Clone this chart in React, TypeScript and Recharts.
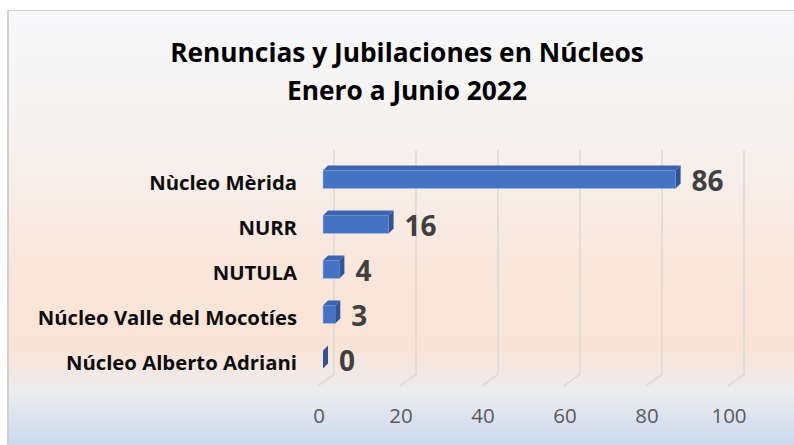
import { BarChart, Bar, XAxis, YAxis, CartesianGrid, LabelList } from 'recharts'

const categories = [
  'Nùcleo Mèrida',
  'NURR',
  'NUTULA',
  'Núcleo Valle del Mocotíes',
  'Núcleo Alberto Adriani',
]
const values = [86, 16, 4, 3, 0]
const xTicks = [0, 20, 40, 60, 80, 100]
const titleLines = ['Renuncias y Jubilaciones en Núcleos', 'Enero a Junio 2022']

const data = categories.map((name, i) => ({ name, value: values[i] }))

const FONT = '"Open Sans", Lato, sans-serif'
const W = 787
const H = 435
const DEPTH = 5

// 3D bar: front face, top face and dark right side
function Bar3D(props: any) {
  const { x, y, height } = props
  const w = Math.max(props.width || 0, 0)
  const d = DEPTH
  const top = `M${x},${y} L${x + d},${y - d} L${x + w + d},${y - d} L${x + w},${y} Z`
  const side = `M${x + w},${y} L${x + w + d},${y - d} L${x + w + d},${y + height - d} L${x + w},${y + height} Z`
  return (
    <g>
      {w > 0 && <rect x={x} y={y} width={w} height={height} fill="#4472c4" stroke="#a9bde3" strokeWidth={0.6} />}
      {w > 0 && <path d={top} fill="#3b64b0" />}
      <path d={side} fill="#2f5597" />
    </g>
  )
}

// back-wall gridline with a slanted floor segment
function GridLine(p: any) {
  const x = p.x1
  return (
    <path
      key={p.key}
      d={`M${x + 11},140 L${x + 11},364 L${x - 5},376`}
      fill="none"
      stroke="#d9d9d9"
      strokeWidth={1.5}
    />
  )
}

function CategoryTick(p: any) {
  return (
    <text
      x={290}
      y={p.y + 10.5}
      textAnchor="end"
      fontFamily={FONT}
      fontWeight={700}
      fontSize={20.3}
      fill="#0d0d0d"
    >
      {p.payload.value}
    </text>
  )
}

function ValueTick(p: any) {
  return (
    <text x={p.x - 4} y={413} textAnchor="middle" fontFamily={FONT} fontSize={20.5} fill="#595959">
      {p.payload.value}
    </text>
  )
}

function ValueLabel(p: any) {
  const { x, y, width, height, value } = p
  return (
    <text
      x={x + width + 16}
      y={y + height / 2 + 11}
      fontFamily={FONT}
      fontWeight={700}
      fontSize={28}
      fill="#404040"
    >
      {value}
    </text>
  )
}

export default function App() {
  return (
    <div
      style={{
        position: 'fixed',
        left: 7,
        top: 10,
        width: W,
        height: H,
        borderTop: '1px solid #d0d0d0',
        borderLeft: '2px solid #d0d0d0',
        boxSizing: 'border-box',
        background:
          'linear-gradient(to bottom, #f7f8fb 0%, #f6f1ee 32%, #fae6da 62%, #fae3d6 78%, #ecedf0 88%, #cbd8ee 100%)',
        overflow: 'hidden',
      }}
    >
      <svg width={W} height={110} style={{ position: 'absolute', left: 0, top: 0 }}>
        {titleLines.map((t, i) => (
          <text
            key={i}
            x={398}
            y={51 + i * 38}
            textAnchor="middle"
            fontFamily={FONT}
            fontWeight={700}
            fontSize={26.3}
            fill="#000"
          >
            {t}
          </text>
        ))}
      </svg>
      <div style={{ position: 'absolute', left: -2, top: -1 }}>
        <BarChart
          width={W}
          height={H}
          data={data}
          layout="vertical"
          margin={{ top: 146.5, right: 61, bottom: 13.5, left: 0 }}
          barSize={18}
        >
          <CartesianGrid horizontal={false} vertical={GridLine} />
          <XAxis
            type="number"
            domain={[0, 100]}
            ticks={xTicks}
            axisLine={false}
            tickLine={false}
            height={50}
            tick={ValueTick}
            interval={0}
          />
          <YAxis
            type="category"
            dataKey="name"
            width={316}
            axisLine={false}
            tickLine={false}
            tick={CategoryTick}
            interval={0}
          />
          <Bar dataKey="value" shape={Bar3D} isAnimationActive={false}>
            <LabelList dataKey="value" content={ValueLabel} />
          </Bar>
        </BarChart>
      </div>
    </div>
  )
}
